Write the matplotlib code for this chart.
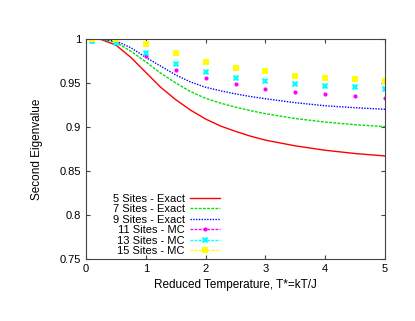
import numpy as np
import matplotlib
matplotlib.use("Agg")
import matplotlib.pyplot as plt
from matplotlib.lines import Line2D
from matplotlib.ticker import FuncFormatter

plt.rcParams['font.family'] = ['Liberation Sans', 'DejaVu Sans']

# exact curves
t_exact = [0, 0.25, 0.5, 0.75, 1.0, 1.25, 1.5, 1.75, 2.0, 2.25, 2.5, 2.75, 3.0, 3.5, 4.0, 4.5, 5.0]
ev5 = [1.0, 0.9993, 0.993, 0.979, 0.962, 0.945, 0.931, 0.919, 0.909, 0.901, 0.895, 0.8895, 0.885, 0.8785, 0.8735, 0.8698, 0.867]
ev7 = [1.0, 0.9995, 0.996, 0.986, 0.974, 0.961, 0.950, 0.940, 0.9325, 0.927, 0.9225, 0.9185, 0.915, 0.9095, 0.9055, 0.9025, 0.9003]
ev9 = [1.0, 0.9997, 0.9975, 0.990, 0.979, 0.969, 0.959, 0.951, 0.945, 0.941, 0.9375, 0.9345, 0.932, 0.9275, 0.924, 0.9218, 0.920]

# monte carlo points
t_mc = [0.1, 0.5, 1.0, 1.5, 2.0, 2.5, 3.0, 3.5, 4.0, 4.5, 5.0]
mc11 = [0.998, 0.996, 0.980, 0.965, 0.955, 0.9485, 0.943, 0.940, 0.937, 0.935, 0.933]
mc13 = [0.997, 0.9955, 0.9838, 0.971, 0.962, 0.956, 0.952, 0.949, 0.947, 0.945, 0.943]
mc15 = [1.0, 1.0, 0.9947, 0.984, 0.974, 0.967, 0.963, 0.958, 0.956, 0.954, 0.952]

fig = plt.figure(figsize=(4.15, 3.21), dpi=100)
ax = fig.add_axes([0.207, 0.193, 0.721, 0.686])

ax.plot(t_exact, ev5, color='#ff0000', lw=1.0, label='5 Sites - Exact')
ax.plot(t_exact, ev7, color='#00e000', lw=1.0, ls=(0, (2, 1)), label='7 Sites - Exact')
ax.plot(t_exact, ev9, color='#0000ff', lw=1.0, ls=(0, (1, 1)), label='9 Sites - Exact')

ax.plot(t_mc, mc11, ls='none', marker='o', ms=3, color='#ff00ff', mew=0)
ax.plot(t_mc, mc13, ls='none', marker='X', ms=5, color='#00ffff', mew=0)
ax.plot(t_mc, mc15, ls='none', marker='s', ms=4, color='#ffff00', mew=0)

handles, labels = ax.get_legend_handles_labels()
handles += [
    Line2D([], [], color='#ff00ff', lw=1, ls=(0, (2, 1)), marker='o', ms=3, mew=0),
    Line2D([], [], color='#00ffff', lw=1, ls=(0, (2, 1)), marker='X', ms=5, mew=0),
    Line2D([], [], color='#ffff00', lw=1, ls=(0, (2, 1)), marker='s', ms=4, mew=0),
]
labels += ['11 Sites - MC', '13 Sites - MC', '15 Sites - MC']
ax.legend(handles, labels, loc='lower right', bbox_to_anchor=(0.475, -0.023),
          frameon=False, markerfirst=False, fontsize=8, handlelength=2.7,
          handletextpad=0.5, labelspacing=0.05, borderpad=0.2, numpoints=1)

ax.set_xlim(0, 5)
ax.set_ylim(0.75, 1.0)
ax.set_xticks([0, 1, 2, 3, 4, 5])
ax.set_yticks([0.75, 0.8, 0.85, 0.9, 0.95, 1.0])
ax.yaxis.set_major_formatter(FuncFormatter(lambda v, p: '%g' % v))
ax.tick_params(direction='in', top=True, right=True, labelsize=8, length=3, color='#444444')
for s in ax.spines.values():
    s.set_color('#444444')
    s.set_linewidth(0.8)

ax.set_xlabel('Reduced Temperature, T*=kT/J', fontsize=8.5, labelpad=4)
ax.set_ylabel('Second Eigenvalue', fontsize=8.5, labelpad=12)

fig.savefig('out.png', dpi=100)
